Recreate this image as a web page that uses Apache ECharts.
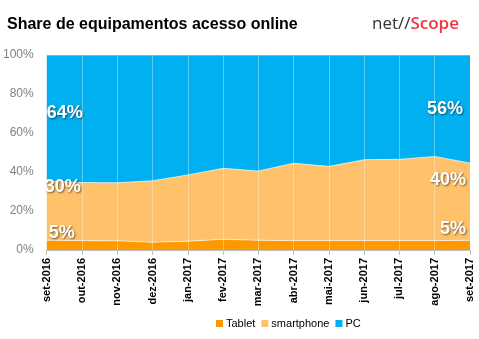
<!DOCTYPE html>
<html>
<head>
<meta charset="utf-8">
<script src="https://cdn.jsdelivr.net/npm/echarts@6/dist/echarts.min.js"></script>
<style>
  html, body { margin: 0; padding: 0; background: #fff; }
  #chart { width: 479px; height: 339px; }
</style>
</head>
<body>
<div id="chart"></div>
<script>
// Monthly share of devices used for online access (percent of sessions)
var months = ['set-2016', 'out-2016', 'nov-2016', 'dez-2016', 'jan-2017', 'fev-2017',
              'mar-2017', 'abr-2017', 'mai-2017', 'jun-2017', 'jul-2017', 'ago-2017', 'set-2017'];
var tablet     = [5, 4.8, 4.7, 4.0, 4.5, 5.5, 5.0, 4.8, 4.8, 4.8, 4.8, 4.8, 5];
var smartphone = [30, 29.8, 29.8, 31.5, 34.0, 36.4, 35.5, 39.7, 38.1, 41.5, 41.7, 43.2, 40];
var pc         = [64, 65.4, 65.5, 64.5, 61.5, 58.1, 59.5, 55.5, 57.1, 53.7, 53.5, 52.0, 56];
var yTicks     = [0, 20, 40, 60, 80, 100];

var COLORS = { tablet: '#ff9900', smartphone: '#ffc26b', pc: '#00b0f0' };

// 100% stacked: each month is scaled so the three shares fill the column
var totals = months.map(function (_, i) { return tablet[i] + smartphone[i] + pc[i]; });
function share(arr, i) { return arr[i] / totals[i] * 100; }

var labelBase = {
  show: true,
  color: '#ffffff',
  fontFamily: 'Liberation Sans, Arial, sans-serif',
  fontWeight: 'bold',
  fontSize: 18,
  distance: 0,
  textShadowColor: 'rgba(0,0,0,0.55)',
  textShadowBlur: 2,
  textShadowOffsetX: 1,
  textShadowOffsetY: 1,
  formatter: function (p) { return p.data.raw + '%'; }
};

// Value labels on the first and last month, anchored to each band's top point
var labelPlacement = {
  tablet:     { first: [2, -7],  last: [-4, -11] },
  smartphone: { first: [-2, 6],  last: [-4, 17] },
  pc:         { first: [0, 58],  last: [-7, 54] }
};

function buildData(key, arr) {
  var last = arr.length - 1;
  return arr.map(function (v, i) {
    var item = { value: share(arr, i), raw: v };
    if (i === 0) {
      item.label = Object.assign({}, labelBase, { position: 'right', offset: labelPlacement[key].first });
    } else if (i === last) {
      item.label = Object.assign({}, labelBase, { position: 'left', offset: labelPlacement[key].last });
    }
    return item;
  });
}

function areaSeries(name, key, arr) {
  return {
    name: name,
    type: 'line',
    stack: 'share',
    data: buildData(key, arr),
    symbol: 'circle',
    symbolSize: 0.1,
    showSymbol: true,
    itemStyle: { color: COLORS[key] },
    lineStyle: { color: 'rgba(255,255,255,0.6)', width: 1 },
    areaStyle: { color: COLORS[key], opacity: 1 },
    emphasis: { disabled: true },
    label: { show: false },
    animation: false
  };
}

var chart = echarts.init(document.getElementById('chart'), null, { renderer: 'canvas' });
chart.setOption({
  backgroundColor: '#ffffff',
  animation: false,
  title: [{
    text: 'Share de equipamentos acesso online',
    left: 2, top: 12,
    textStyle: { fontFamily: 'Liberation Sans, Arial, sans-serif', fontWeight: 'bold', fontSize: 16, color: '#000' }
  }, {
    text: '{a|net//}{b|Scope}',
    right: 15, top: 11,
    textStyle: {
      fontWeight: 'normal',
      rich: {
        a: { fontFamily: 'Open Sans, sans-serif', fontWeight: 'normal', fontSize: 17, color: '#333333' },
        b: { fontFamily: 'Open Sans, sans-serif', fontWeight: 600, fontSize: 17, color: '#f5333f' }
      }
    }
  }],
  legend: {
    data: ['Tablet', 'smartphone', 'PC'],
    left: 211, top: 313,
    itemWidth: 7, itemHeight: 7, itemGap: 6,
    icon: 'rect',
    textStyle: { fontFamily: 'Liberation Sans, Arial, sans-serif', fontSize: 11, color: '#000', padding: [0, 0, 0, -2] }
  },
  grid: { left: 45, right: 9, top: 55, bottom: 89, containLabel: false },
  xAxis: {
    type: 'category',
    data: months,
    boundaryGap: false,
    z: 10,
    axisLine: { lineStyle: { color: '#bfbfbf', width: 1 } },
    axisTick: { show: true, alignWithLabel: true, length: 5, lineStyle: { color: '#bfbfbf' } },
    splitLine: { show: true, lineStyle: { color: 'rgba(255,255,255,0.35)', width: 1 } },
    axisLabel: {
      interval: 0, rotate: 90, margin: 8,
      fontFamily: 'Liberation Sans, Arial, sans-serif', fontWeight: 'bold', fontSize: 11, color: '#000'
    }
  },
  yAxis: {
    type: 'value',
    min: yTicks[0], max: yTicks[yTicks.length - 1], interval: 20,
    axisLine: { show: false },
    axisTick: { show: false },
    splitLine: { show: false },
    axisLabel: {
      margin: 13,
      formatter: '{value}%',
      fontFamily: 'Liberation Sans, Arial, sans-serif', fontSize: 12, color: '#808080'
    }
  },
  series: [
    areaSeries('Tablet', 'tablet', tablet),
    areaSeries('smartphone', 'smartphone', smartphone),
    areaSeries('PC', 'pc', pc)
  ]
});
</script>
</body>
</html>
